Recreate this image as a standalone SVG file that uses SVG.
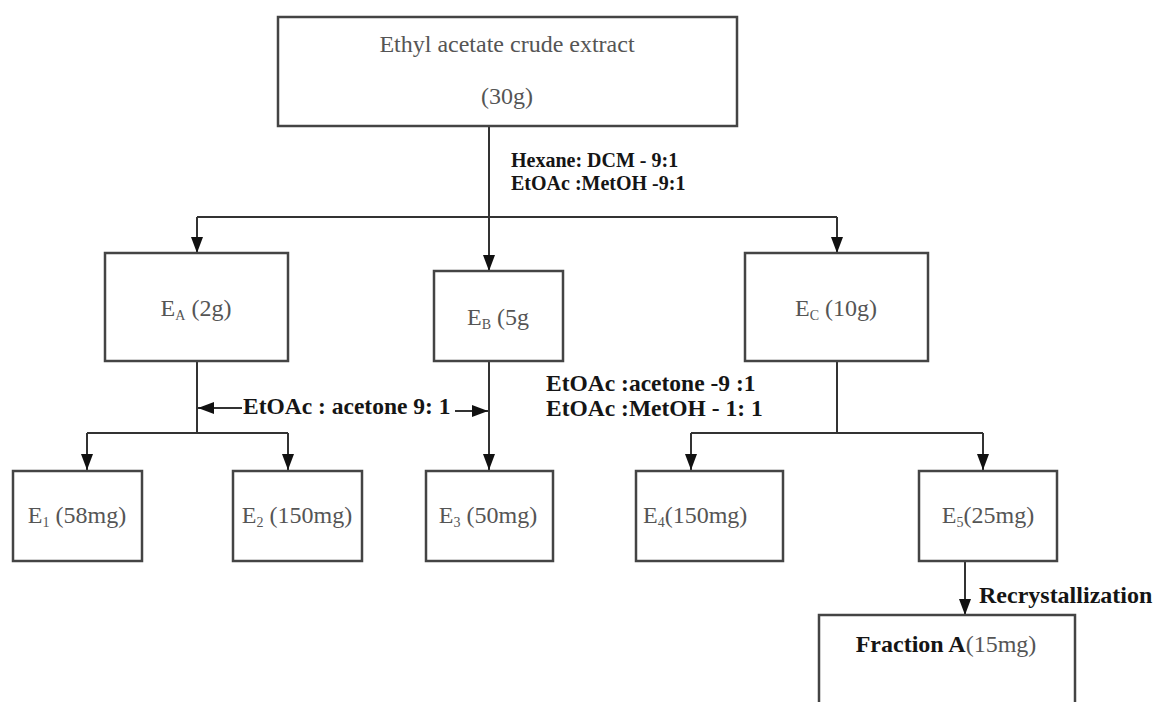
<svg xmlns="http://www.w3.org/2000/svg" width="1156" height="702" viewBox="0 0 1156 702">
  <style>
    .box { fill: #ffffff; stroke: #444444; stroke-width: 2.5; }
    .node { font-family: "Liberation Serif", "Times New Roman", serif; font-size: 24px; fill: #555555; }
    .sub { font-size: 14px; }
    .lbl { font-family: "Liberation Serif", "Times New Roman", serif; font-weight: bold; fill: #151515; }
    .wire { fill: none; stroke: #333333; stroke-width: 2; }
    .arrow { fill: none; stroke: #333333; stroke-width: 2; marker-end: url(#head); }
  </style>
  <defs>
    <marker id="head" markerUnits="userSpaceOnUse" markerWidth="16" markerHeight="12" refX="16" refY="6" orient="auto">
      <path d="M0,0 L16,6 L0,12 z" fill="#111111"/>
    </marker>
  </defs>

  <rect width="1156" height="702" fill="#ffffff"/>

  <!-- connectors -->
  <g id="connectors">
    <!-- crude extract split into three fractions -->
    <path class="arrow" d="M489,126 V271"/>
    <path class="wire" d="M197,217 H837"/>
    <path class="arrow" d="M197,217 V253"/>
    <path class="arrow" d="M837,217 V253"/>
    <!-- EA branch -->
    <path class="wire" d="M197,361 V433 M87,433 H288"/>
    <path class="arrow" d="M87,433 V470"/>
    <path class="arrow" d="M288,433 V470"/>
    <!-- EB stem -->
    <path class="arrow" d="M489,361 V470"/>
    <!-- EC branch -->
    <path class="wire" d="M837,361 V433 M691,433 H983"/>
    <path class="arrow" d="M691,433 V470"/>
    <path class="arrow" d="M983,433 V470"/>
    <!-- E5 recrystallization -->
    <path class="arrow" d="M965,561 V615"/>
    <!-- solvent pointers -->
    <path class="arrow" d="M242,408 H198"/>
    <path class="arrow" d="M455,411 H488"/>
  </g>

  <!-- edge labels -->
  <g id="labels">
    <text class="lbl" x="511" y="167" font-size="20">Hexane: DCM - 9:1</text>
    <text class="lbl" x="511" y="190" font-size="20">EtOAc :MetOH -9:1</text>
    <text class="lbl" x="243" y="414" font-size="23.5">EtOAc : acetone 9: 1</text>
    <text class="lbl" x="546" y="391" font-size="23.5">EtOAc :acetone -9 :1</text>
    <text class="lbl" x="546" y="416" font-size="23.5">EtOAc :MetOH - 1: 1</text>
    <text class="lbl" x="979" y="603" font-size="24">Recrystallization</text>
  </g>

  <g id="crude">
    <rect class="box" x="278" y="17" width="459" height="109"/>
    <text class="node" x="507" y="52" text-anchor="middle">Ethyl acetate crude extract</text>
    <text class="node" x="507" y="104" text-anchor="middle">(30g)</text>
  </g>

  <g id="EA">
    <rect class="box" x="105" y="253" width="183" height="108"/>
    <text class="node" x="196" y="316" text-anchor="middle">E<tspan class="sub" dy="4">A</tspan><tspan dy="-4"> (2g)</tspan></text>
  </g>

  <g id="EB">
    <rect class="box" x="434" y="271" width="129" height="90"/>
    <text class="node" x="498" y="325" text-anchor="middle">E<tspan class="sub" dy="4">B</tspan><tspan dy="-4"> (5g</tspan></text>
  </g>

  <g id="EC">
    <rect class="box" x="745" y="253" width="183" height="108"/>
    <text class="node" x="836" y="316" text-anchor="middle">E<tspan class="sub" dy="4">C</tspan><tspan dy="-4"> (10g)</tspan></text>
  </g>

  <g id="E1">
    <rect class="box" x="13" y="471" width="129" height="90"/>
    <text class="node" x="77" y="523" text-anchor="middle">E<tspan class="sub" dy="4">1</tspan><tspan dy="-4"> (58mg)</tspan></text>
  </g>

  <g id="E2">
    <rect class="box" x="233" y="471" width="129" height="90"/>
    <text class="node" x="297" y="523" text-anchor="middle">E<tspan class="sub" dy="4">2</tspan><tspan dy="-4"> (150mg)</tspan></text>
  </g>

  <g id="E3">
    <rect class="box" x="426" y="471" width="127" height="90"/>
    <text class="node" x="488" y="523" text-anchor="middle">E<tspan class="sub" dy="4">3</tspan><tspan dy="-4"> (50mg)</tspan></text>
  </g>

  <g id="E4">
    <rect class="box" x="636" y="471" width="147" height="90"/>
    <text class="node" x="643" y="523">E<tspan class="sub" dy="4">4</tspan><tspan dy="-4">(150mg)</tspan></text>
  </g>

  <g id="E5">
    <rect class="box" x="919" y="471" width="138" height="90"/>
    <text class="node" x="988" y="523" text-anchor="middle">E<tspan class="sub" dy="4">5</tspan><tspan dy="-4">(25mg)</tspan></text>
  </g>

  <g id="fractionA">
    <rect class="box" x="819" y="615" width="256" height="110"/>
    <text class="node" x="946" y="652" text-anchor="middle"><tspan font-weight="bold" fill="#151515">Fraction A</tspan>(15mg)</text>
  </g>
</svg>
